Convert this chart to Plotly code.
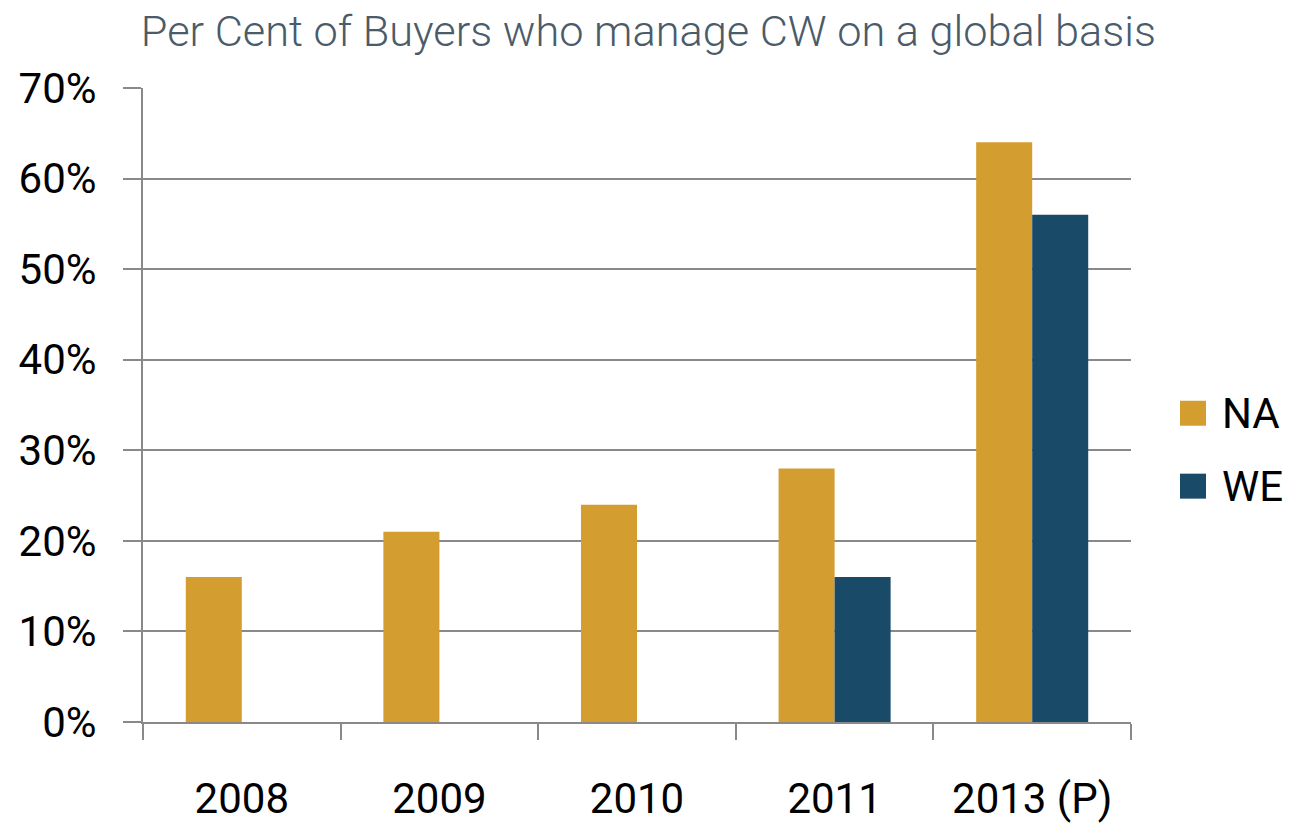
import plotly.graph_objects as go

# Share of buyers managing contingent workforce globally, by region
years = ["2008", "2009", "2010", "2011", "2013 (P)"]
na_share = [0.16, 0.21, 0.24, 0.28, 0.64]
we_share = [None, None, None, 0.16, 0.56]
series_names = ["NA", "WE"]
series_colors = ["#D49D2F", "#194A68"]

title_text = "Per Cent of Buyers who manage CW on a global basis"
y_ticks = [0, 0.1, 0.2, 0.3, 0.4, 0.5, 0.6, 0.7]

FONT = "Roboto, Lato, sans-serif"
GRID = "#898989"

fig = go.Figure()
for name, vals, color in zip(series_names, [na_share, we_share], series_colors):
    fig.add_trace(go.Bar(x=years, y=vals, name=name, marker=dict(color=color, line=dict(width=0)),
                         showlegend=False))

# Custom legend: large colour swatches with labels
legend_y = [0.487, 0.372]
for name, color, yc in zip(series_names, series_colors, legend_y):
    fig.add_shape(type="rect", xref="paper", yref="paper",
                  x0=1.0496, x1=1.0759, y0=yc - 0.0197, y1=yc + 0.0197,
                  fillcolor=color, line=dict(width=0))
    fig.add_annotation(text=name, xref="paper", yref="paper", x=1.0905, y=yc,
                       xanchor="left", yanchor="middle", showarrow=False,
                       font=dict(family=FONT, size=42, color="#000000"))

fig.update_layout(
    width=1289, height=824,
    margin=dict(l=143, r=158, t=88, b=102),
    paper_bgcolor="white", plot_bgcolor="white",
    barmode="group", bargap=0.433, bargroupgap=0,
    title=dict(text=title_text, x=0.503, xanchor="center", y=0.981, yanchor="top",
               font=dict(family=FONT, size=43.3, color="#4A5B69", weight=300)),
    font=dict(family=FONT, size=42, color="#000000"),
)
fig.update_xaxes(
    type="category", tickson="boundaries", ticks="outside", ticklen=16, tickwidth=2,
    tickcolor=GRID, showline=True, linecolor=GRID, linewidth=2, showgrid=False,
    ticklabelstandoff=39, automargin=False,
    tickfont=dict(family=FONT, size=42, color="#000000"),
)
fig.update_yaxes(
    range=[0, 0.7], tickvals=y_ticks, tickformat=".0%", ticks="outside", ticklen=18,
    tickwidth=2, tickcolor=GRID, showline=True, linecolor=GRID, linewidth=2,
    showgrid=True, gridcolor=GRID, gridwidth=2, zeroline=False,
    ticklabelstandoff=18, automargin=False,
    tickfont=dict(family=FONT, size=42, color="#000000"),
)

fig.write_html("out.html")
